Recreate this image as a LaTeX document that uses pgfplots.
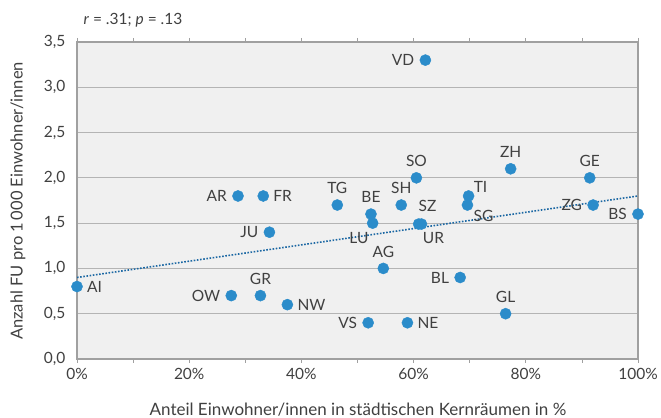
\documentclass[border=0pt]{standalone}
\usepackage{pgfplots}
\pgfplotsset{compat=1.18}
\usepackage{fontspec}
\setmainfont{Lato}
\definecolor{txt}{HTML}{404040}
\definecolor{dot}{HTML}{2B8CCA}
\definecolor{trend}{HTML}{1A67A3}
\definecolor{bg}{HTML}{F0F0F0}
\definecolor{grd}{HTML}{B4B4B4}
\definecolor{frm}{HTML}{A0A0A0}
\newcommand\lblfont{\fontsize{15.5bp}{17bp}\selectfont}
\pgfplotsset{
  pts/.style n args={3}{only marks, mark=*, mark size=5.6pt, mark options={fill=dot, draw=dot},
    nodes near coords, point meta=explicit symbolic,
    every node near coord/.append style={anchor=#1, xshift=#2, yshift=#3, txt, inner sep=0pt, font=\lblfont}},
}
\begin{document}
\begin{tikzpicture}[font=\lblfont]
\useasboundingbox (0bp,0bp) rectangle (661bp,418bp);
\begin{axis}[
  at={(77bp,59bp)}, anchor=south west,
  width=561bp, height=317bp, scale only axis,
  xmin=0, xmax=100, ymin=0, ymax=3.5,
  clip=false,
  axis background/.style={fill=bg},
  axis line style={frm, line width=1.2pt},
  xtick={0,20,...,100}, minor xtick={10,30,...,90},
  xticklabel={\pgfmathprintnumber{\tick}\%},
  xtick style={frm, line width=0.8pt},
  minor tick style={frm, line width=0.8pt},
  tick align=outside, major tick length=4bp, minor tick length=4bp,
  ytick={0,0.5,...,3.5},
  ytick style={draw=none},
  ymajorgrids, major grid style={grd, line width=1pt},
  yticklabel style={xshift=-4bp, /pgf/number format/.cd, use comma, fixed, fixed zerofill, precision=1},
  /pgf/number format/assume math mode=true,
  tick label style={txt, font=\lblfont},
  every x tick label/.append style={yshift=-2bp},
]
\addplot[trend, line width=1.6pt, dash pattern=on 1.6pt off 1.6pt] coordinates {(0,0.9) (100,1.8)};
% labels to the right
\addplot[pts={west}{10bp}{0bp}] coordinates {(0,0.8) [AI] (37.5,0.6) [NW] (33.2,1.8) [FR] (58.9,0.4) [NE]};
% labels to the left
\addplot[pts={east}{-11bp}{0bp}] coordinates {(27.5,0.7) [OW] (34.3,1.4) [JU] (28.7,1.8) [AR] (92.0,1.7) [ZG] (100,1.6) [BS] (68.3,0.9) [BL] (51.9,0.4) [VS] (62.1,3.3) [VD]};
% labels above
\addplot[pts={south}{0bp}{11bp}] coordinates {(32.7,0.7) [GR] (46.4,1.7) [TG] (52.4,1.6) [BE] (57.8,1.7) [SH] (60.5,2.0) [SO] (77.3,2.1) [ZH] (91.4,2.0) [GE] (54.6,1.0) [AG] (76.4,0.5) [GL]};
% labels below left
\addplot[pts={north east}{-4bp}{-9bp}] coordinates {(52.7,1.5) [LU]};
% labels above right
\addplot[pts={south west}{-3bp}{12bp}] coordinates {(61.4,1.49) [SZ]};
\addplot[pts={south west}{5bp}{3bp}] coordinates {(69.8,1.8) [TI]};
% labels below right
\addplot[pts={north west}{4bp}{-8bp}] coordinates {(60.9,1.49) [UR]};
\addplot[pts={north west}{6bp}{-5bp}] coordinates {(69.6,1.7) [SG]};
\end{axis}
\node[txt, anchor=west] at (80bp,398bp) {\textit{r} = .31; \textit{p} = .13};
\node[txt, rotate=90] at (18bp,217bp) {\fontsize{16.5bp}{18bp}\selectfont Anzahl FU pro 1\,000 Einwohner/innen};
\node[txt] at (358bp,8bp) {\fontsize{17bp}{18bp}\selectfont Anteil Einwohner/innen in städtischen Kernräumen in \%};
\end{tikzpicture}
\end{document}
